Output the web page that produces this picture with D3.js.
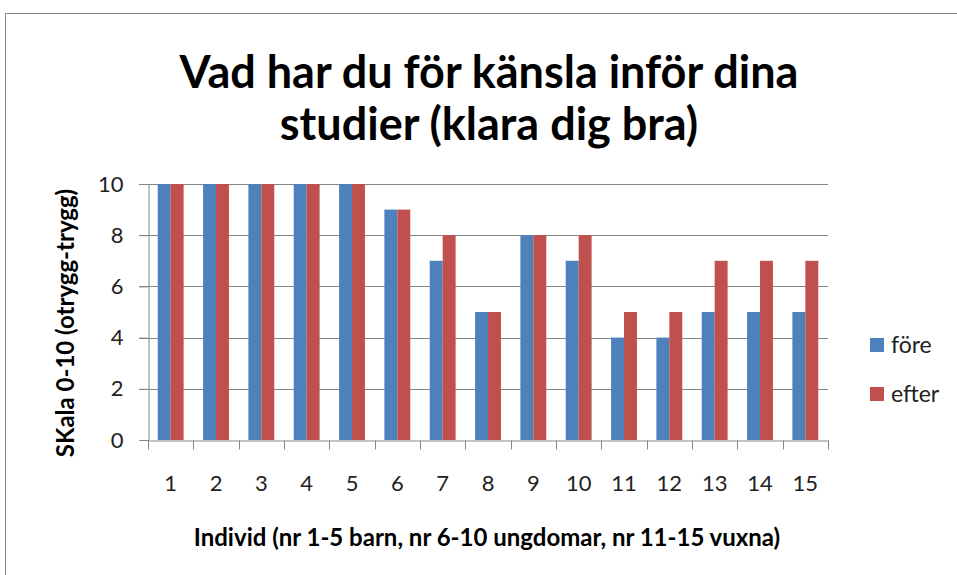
<!doctype html>
<html lang='sv'>
  <head>
    <meta charset='utf-8' />
    <style>
      * { padding: 0; margin: 0; }
      body { background: #fff; }
      svg { display: block; font-family: Lato, 'Open Sans', sans-serif; }
    </style>
  </head>
  <body>
    <div id='container'></div>
    <script src='https://d3js.org/d3.v7.min.js'></script>
    <script type='text/javascript'>

      var individer = ['1','2','3','4','5','6','7','8','9','10','11','12','13','14','15'];
      var fore  = [10,10,10,10,10,9,7,5,8,7,4,4,5,5,5];
      var efter = [10,10,10,10,10,9,8,5,8,8,5,5,7,7,7];
      var serier = ['före', 'efter'];
      var yTicks = [0,2,4,6,8,10];

      const W = 957, H = 575;
      const plotLeft = 148, plotRight = 828, plotTop = 184, plotBottom = 440;
      const colors = { 'före': '#4F81BD', 'efter': '#C0504D' };

      var svg = d3.select('#container').append('svg')
          .attr('width', W)
          .attr('height', H);

      // chart frame
      svg.append('path')
        .attr('d', 'M5.5,' + H + 'V13.5H' + W)
        .attr('fill', 'none')
        .attr('stroke', '#868686')
        .attr('stroke-width', 1);

      var x = d3.scaleBand().domain(individer).range([plotLeft, plotRight]).paddingInner(0).paddingOuter(0);
      var y = d3.scaleLinear().domain([0, 10]).range([plotBottom, plotTop]);
      var inner = d3.scaleBand().domain(serier).range([0, x.bandwidth()]).paddingInner(0).paddingOuter(0.75);

      // gridlines
      svg.append('g').selectAll('line')
        .data(yTicks.filter(function(d) { return d > 0; }))
        .enter().append('line')
        .attr('x1', plotLeft - 9).attr('x2', plotRight)
        .attr('y1', function(d) { return Math.round(y(d)) + 0.5; })
        .attr('y2', function(d) { return Math.round(y(d)) + 0.5; })
        .attr('stroke', '#868686');

      // bars
      var rows = individer.map(function(d, i) { return { k: d, 'före': fore[i], 'efter': efter[i] }; });
      var g = svg.append('g').selectAll('g')
        .data(rows).enter().append('g')
        .attr('transform', function(d) { return 'translate(' + x(d.k) + ',0)'; });
      g.selectAll('rect')
        .data(function(d) { return serier.map(function(s) { return { s: s, v: d[s] }; }); })
        .enter().append('rect')
        .attr('x', function(d) { return inner(d.s); })
        .attr('width', inner.bandwidth())
        .attr('y', function(d) { return y(d.v); })
        .attr('height', function(d) { return y(0) - y(d.v); })
        .attr('fill', function(d) { return colors[d.s]; });

      // y axis
      var yAxis = svg.append('g')
        .attr('transform', 'translate(' + (plotLeft + 0.5) + ',0)')
        .call(d3.axisLeft(y).tickValues(yTicks).tickSize(9).tickPadding(16));
      yAxis.select('.domain').attr('stroke', '#868686');
      yAxis.selectAll('.tick line').attr('stroke', '#868686');
      yAxis.selectAll('.tick text').attr('font-size', 22).attr('fill', '#222').attr('font-family', 'Lato, sans-serif');

      // x axis
      var xAxis = svg.append('g')
        .attr('transform', 'translate(0,' + (plotBottom + 0.5) + ')')
        .call(d3.axisBottom(x).tickSize(0).tickPadding(35));
      xAxis.select('.domain').attr('stroke', '#868686');
      xAxis.selectAll('.tick text').attr('font-size', 22).attr('fill', '#222').attr('font-family', 'Lato, sans-serif');
      xAxis.append('g').selectAll('line')
        .data(d3.range(individer.length + 1))
        .enter().append('line')
        .attr('x1', function(i) { return Math.round(plotLeft + i * x.step()) + 0.5; })
        .attr('x2', function(i) { return Math.round(plotLeft + i * x.step()) + 0.5; })
        .attr('y1', 0).attr('y2', 9)
        .attr('stroke', '#868686');

      // titles
      var title = svg.append('text')
        .attr('text-anchor', 'middle')
        .attr('font-size', 45)
        .attr('font-weight', 700)
        .attr('fill', '#000');
      title.append('tspan').attr('x', 489).attr('y', 88).text('Vad har du för känsla inför dina');
      title.append('tspan').attr('x', 489).attr('y', 140).text('studier (klara dig bra)');

      svg.append('text')
        .attr('transform', 'translate(74,323) rotate(-90)')
        .attr('text-anchor', 'middle')
        .attr('font-size', 24)
        .attr('font-weight', 700)
        .text('SKala 0-10 (otrygg-trygg)');

      svg.append('text')
        .attr('x', 487)
        .attr('y', 546)
        .attr('text-anchor', 'middle')
        .attr('font-size', 24)
        .attr('font-weight', 700)
        .text('Individ (nr 1-5 barn, nr 6-10 ungdomar, nr 11-15 vuxna)');

      // legend
      var lg = svg.append('g').selectAll('g')
        .data(serier).enter().append('g')
        .attr('transform', function(d, i) { return 'translate(870,' + (338 + i * 49) + ')'; });
      lg.append('rect').attr('width', 14).attr('height', 14)
        .attr('fill', function(d) { return colors[d]; });
      lg.append('text')
        .attr('x', 21).attr('y', 7).attr('dy', '0.35em')
        .attr('font-size', 23).attr('fill', '#222')
        .text(function(d) { return d; });
    </script>
  </body>
</html>
